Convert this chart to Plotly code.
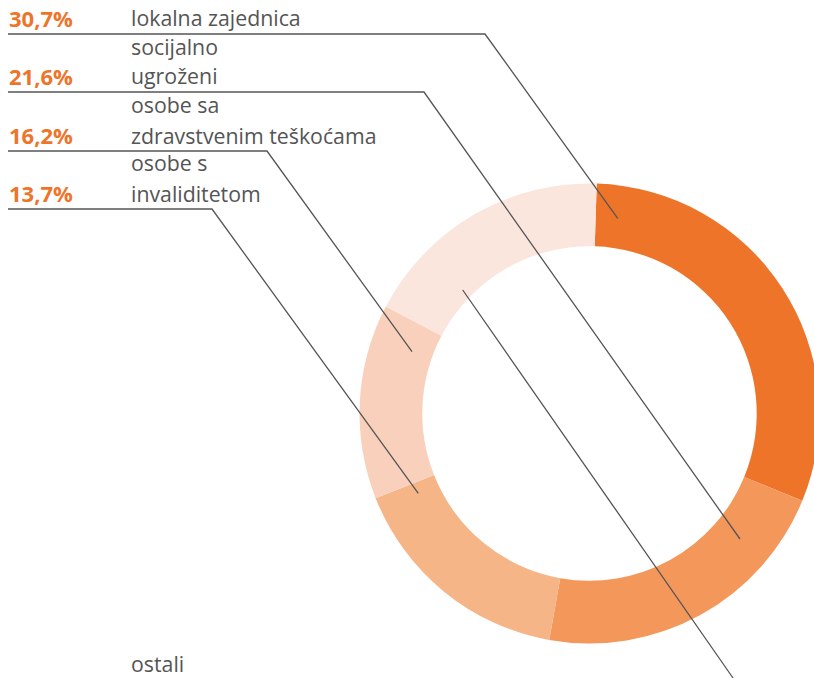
import plotly.graph_objects as go

# ---- data ----
categories = ["lokalna zajednica", "socijalno\nugroženi", "osobe sa\nzdravstvenim teškoćama",
              "osobe s\ninvaliditetom", "ostali"]
values = [30.7, 21.6, 16.2, 13.7, 17.8]
pct_labels = ["30,7%", "21,6%", "16,2%", "13,7%", "17,8%"]
colors = ["#EE7429", "#F3975B", "#F5B587", "#F8D0BB", "#FAE6DD"]

W, H = 814, 678
OFF = 8  # page body margin offset


def px(x):
    return (x - OFF) / W


def py(y):
    return 1 - (y - OFF) / H


# donut geometry (screen pixels)
CX, CY, R = 589.5, 413.5, 230

fig = go.Figure()
fig.add_trace(go.Pie(
    labels=[c.replace("\n", " ") for c in categories],
    values=values,
    sort=False,
    direction="clockwise",
    rotation=1.8,
    hole=0.727,
    marker=dict(colors=colors, line=dict(width=0)),
    textinfo="none",
    hoverinfo="label+percent",
    showlegend=False,
    domain=dict(x=[px(CX - R), px(CX + R)], y=[py(CY + R), py(CY - R)]),
))

# ---- label rows (screen pixel layout) ----
row_line_y = [34, 92, 151, 209]
corner_x = [485, 424, 267, 212]
leader_end = [(617.7, 218.3), (740, 539), (412, 351.7), (418.3, 493.3)]

shapes = []
annotations = []
font_txt = dict(family="Open Sans", size=21.3, color="#555555")
font_pct = dict(family="Open Sans", size=22, color="#EE7429")

for i in range(4):
    ly = row_line_y[i]
    cx = corner_x[i]
    ex, ey = leader_end[i]
    shapes.append(dict(
        type="path", xref="paper", yref="paper",
        path=f"M {px(7)} {py(ly)} L {px(cx)} {py(ly)} L {px(ex)} {py(ey)}",
        line=dict(color="#555555", width=1.3),
    ))
    lines = categories[i].split("\n")
    last_y = ly - 16
    for j, t in enumerate(reversed(lines)):
        annotations.append(dict(
            x=px(129), y=py(last_y - 30 * j), xref="paper", yref="paper",
            xanchor="left", yanchor="middle", text=t, showarrow=False, font=font_txt,
        ))
    annotations.append(dict(
        x=px(7), y=py(last_y), xref="paper", yref="paper",
        xanchor="left", yanchor="middle", text=f"<b>{pct_labels[i]}</b>",
        showarrow=False, font=font_pct,
    ))

# ostali row (mostly below visible area)
shapes.append(dict(
    type="path", xref="paper", yref="paper",
    path=f"M {px(462.7)} {py(290)} L {px(733)} {py(678)} L {px(750)} {py(702)}",
    line=dict(color="#555555", width=1.3),
))
annotations.append(dict(
    x=px(129), y=py(663), xref="paper", yref="paper",
    xanchor="left", yanchor="middle", text=categories[4], showarrow=False, font=font_txt,
))

fig.update_layout(
    width=W, height=H,
    margin=dict(l=0, r=0, t=0, b=0),
    paper_bgcolor="white", plot_bgcolor="white",
    shapes=shapes, annotations=annotations,
)

fig.write_html("out.html", post_script="document.body.style.marginRight='0px';")
